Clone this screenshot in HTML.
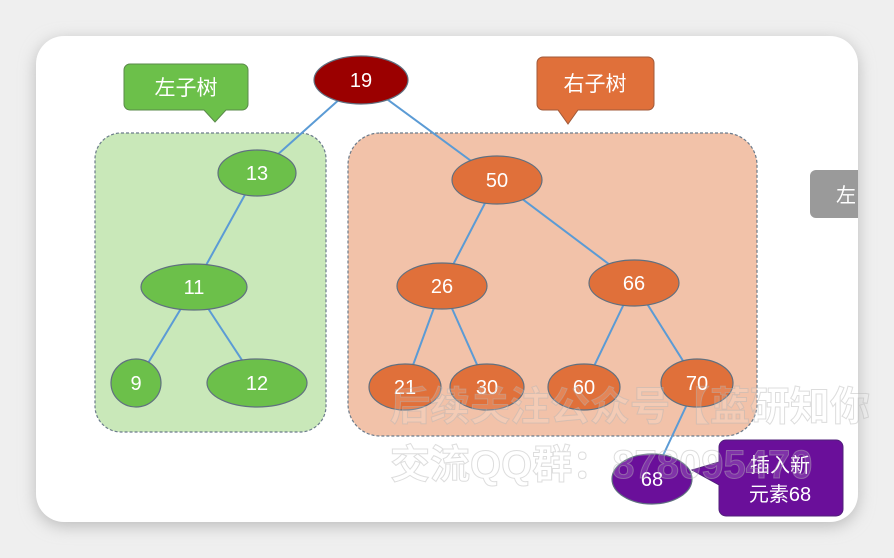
<!DOCTYPE html>
<html><head><meta charset="utf-8"><style>
html,body{margin:0;padding:0;background:#eeeeee;}
svg{display:block;font-family:"Liberation Sans","Noto Sans CJK SC",sans-serif;}
</style></head><body>
<svg width="894" height="558" viewBox="0 0 894 558">
<defs><filter id="sh" x="-10%" y="-10%" width="120%" height="120%"><feGaussianBlur stdDeviation="8"/></filter></defs>
<rect x="0" y="0" width="894" height="558" fill="#efefef"/>
<rect x="36" y="40" width="822" height="486" rx="28" fill="#bbb" filter="url(#sh)"/>
<rect x="36" y="36" width="822" height="486" rx="28" fill="#fff"/>
<rect x="95" y="133" width="231" height="299" rx="26" fill="#c9e8b9" stroke="#6b7b8b" stroke-dasharray="3,2" stroke-width="1.2"/>
<rect x="348" y="133" width="409" height="303" rx="32" fill="#f2c2a9" stroke="#6b7b8b" stroke-dasharray="3,2" stroke-width="1.2"/>
<g stroke="#5b9bd5" stroke-width="2" fill="none">
<line x1="361" y1="80" x2="257" y2="173"/>
<line x1="361" y1="80" x2="497" y2="180"/>
<line x1="257" y1="173" x2="194" y2="287"/>
<line x1="194" y1="287" x2="136" y2="383"/>
<line x1="194" y1="287" x2="257" y2="383"/>
<line x1="497" y1="180" x2="442" y2="286"/>
<line x1="497" y1="180" x2="634" y2="283"/>
<line x1="442" y1="286" x2="405" y2="387"/>
<line x1="442" y1="286" x2="487" y2="387"/>
<line x1="634" y1="283" x2="584" y2="387"/>
<line x1="634" y1="283" x2="697" y2="383"/>
<line x1="697" y1="383" x2="652" y2="479"/>
</g>
<path d="M130,64 H242 a6,6 0 0 1 6,6 V104 a6,6 0 0 1 -6,6 H226 L215,122 L204,110 H130 a6,6 0 0 1 -6,-6 V70 a6,6 0 0 1 6,-6Z" fill="#6cc04a" stroke="#5a8a4a"/>
<text x="186" y="95" font-size="21" fill="#fff" text-anchor="middle">左子树</text>
<path d="M543,57 H648 a6,6 0 0 1 6,6 V104 a6,6 0 0 1 -6,6 H578 L568,124 L558,110 H543 a6,6 0 0 1 -6,-6 V63 a6,6 0 0 1 6,-6Z" fill="#e0703a" stroke="#a05a3a"/>
<text x="595" y="91" font-size="21" fill="#fff" text-anchor="middle">右子树</text>
<path d="M816,170 H858 V218 H816 a6,6 0 0 1 -6,-6 V176 a6,6 0 0 1 6,-6Z" fill="#9a9a9a"/>
<text x="836" y="202" font-size="20" fill="#fff">左</text>
<g stroke="#607080" stroke-width="1.2">
<ellipse cx="361" cy="80" rx="47" ry="24" fill="#9b0000"/>
<ellipse cx="257" cy="173" rx="39" ry="23" fill="#6cc04a"/>
<ellipse cx="194" cy="287" rx="53" ry="23" fill="#6cc04a"/>
<ellipse cx="136" cy="383" rx="25" ry="24" fill="#6cc04a"/>
<ellipse cx="257" cy="383" rx="50" ry="24" fill="#6cc04a"/>
<ellipse cx="497" cy="180" rx="45" ry="24" fill="#e0703a"/>
<ellipse cx="442" cy="286" rx="45" ry="23" fill="#e0703a"/>
<ellipse cx="634" cy="283" rx="45" ry="23" fill="#e0703a"/>
<ellipse cx="405" cy="387" rx="36" ry="23" fill="#e0703a"/>
<ellipse cx="487" cy="387" rx="37" ry="23" fill="#e0703a"/>
<ellipse cx="584" cy="387" rx="36" ry="23" fill="#e0703a"/>
<ellipse cx="697" cy="383" rx="36" ry="24" fill="#e0703a"/>
<ellipse cx="652" cy="479" rx="40" ry="25" fill="#6a0f9a"/>
</g>
<path d="M726,440 H836 a7,7 0 0 1 7,7 V509 a7,7 0 0 1 -7,7 H726 a7,7 0 0 1 -7,-7 V485 L692,470 L719,462 V447 a7,7 0 0 1 7,-7Z" fill="#6a0f9a" stroke="#50207a"/>
<text x="780" y="472" font-size="20" fill="#fff" text-anchor="middle">插入新</text>
<text x="780" y="501" font-size="20" fill="#fff" text-anchor="middle">元素68</text>
<g font-size="20" fill="#fff" text-anchor="middle">
<text x="361" y="87">19</text>
<text x="257" y="180">13</text>
<text x="194" y="294">11</text>
<text x="136" y="390">9</text>
<text x="257" y="390">12</text>
<text x="497" y="187">50</text>
<text x="442" y="293">26</text>
<text x="634" y="290">66</text>
<text x="405" y="394">21</text>
<text x="487" y="394">30</text>
<text x="584" y="394">60</text>
<text x="697" y="390">70</text>
<text x="652" y="486">68</text>
</g>
<g font-size="40" fill="rgba(255,255,255,0.15)" stroke="rgba(180,180,180,0.45)" stroke-width="1" font-weight="bold">
<text x="390" y="420">后续关注公众号【蓝研知你</text>
<text x="390" y="478">交流QQ群：878095470</text>
</g>
</svg>
</body></html>
